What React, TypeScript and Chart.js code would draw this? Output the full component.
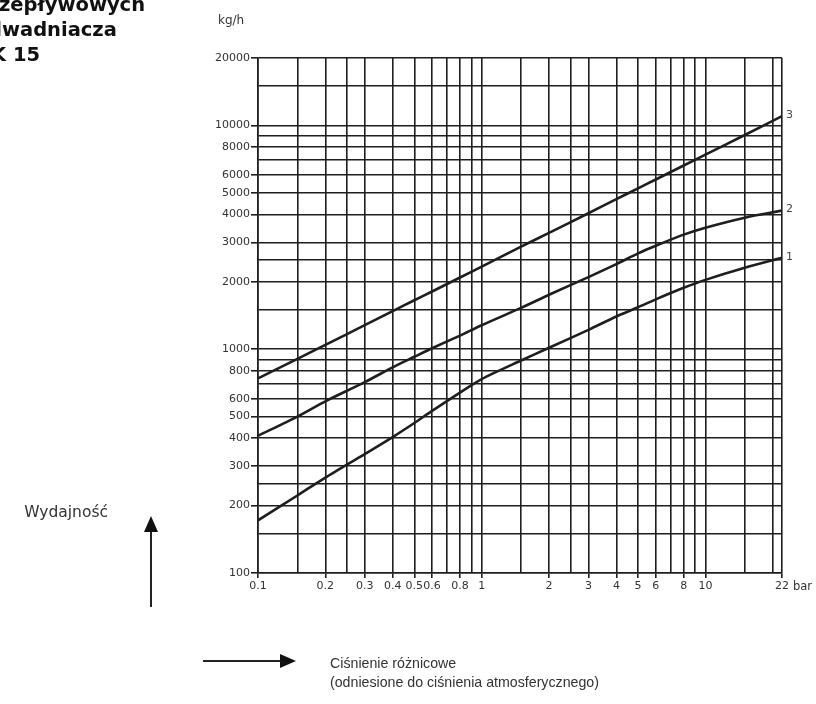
import React, { useEffect, useRef } from "react";
import { Chart, registerables } from "chart.js";

Chart.register(...registerables);

// Differential pressure (bar) at which the curves were read
const pressureBar = [0.1, 0.15, 0.2, 0.3, 0.4, 0.5, 0.6, 0.8, 1, 1.5, 2, 3, 4, 5, 6, 8, 10, 15, 22];
// Capacity (kg/h) for the three curves
const curve1 = [172, 222, 267, 340, 405, 468, 530, 640, 735, 890, 1015, 1220, 1400, 1540, 1670, 1880, 2040, 2310, 2560];
const curve2 = [410, 500, 585, 712, 830, 925, 1010, 1150, 1280, 1530, 1750, 2100, 2400, 2680, 2900, 3250, 3490, 3870, 4160];
const curve3 = [740, 905, 1045, 1280, 1480, 1655, 1810, 2090, 2340, 2870, 3310, 4050, 4680, 5230, 5730, 6620, 7400, 9060, 11000];
const curveLabels = ["1", "2", "3"];

const xGridValues = [0.1, 0.15, 0.2, 0.25, 0.3, 0.4, 0.5, 0.6, 0.7, 0.8, 0.9, 1, 1.5, 2, 2.5, 3, 4, 5, 6, 7, 8, 9, 10, 15, 20, 22];
const xTickLabels = ["0.1", "0.2", "0.3", "0.4", "0.5", "0.6", "0.8", "1", "2", "3", "4", "5", "6", "8", "10", "22"];
const yGridValues = [100, 150, 200, 250, 300, 400, 500, 600, 700, 800, 900, 1000, 1500, 2000, 2500, 3000, 4000, 5000, 6000, 7000, 8000, 9000, 10000, 15000, 20000];
const yTickLabels = ["100", "200", "300", "400", "500", "600", "800", "1000", "2000", "3000", "4000", "5000", "6000", "8000", "10000", "20000"];

const INK = "#1e1e1e";
const TEXT = "#333333";

function labelFor(labels: string[], v: number): string {
  const l = labels.find((s) => Number(s) === v);
  return l === undefined ? "" : l;
}

const endLabelsPlugin = {
  id: "endLabels",
  afterDatasetsDraw(chart: any) {
    const ctx = chart.ctx;
    ctx.save();
    ctx.font = '11px "DejaVu Sans"';
    ctx.fillStyle = "#444";
    ctx.textBaseline = "middle";
    ctx.textAlign = "left";
    chart.data.datasets.forEach((ds: any, i: number) => {
      const meta = chart.getDatasetMeta(i);
      const pt = meta.data[meta.data.length - 1];
      if (pt) ctx.fillText(ds.label, pt.x + 4, pt.y - 1);
    });
    ctx.restore();
  },
};

function CapacityChart() {
  const ref = useRef<HTMLCanvasElement | null>(null);
  useEffect(() => {
    if (!ref.current) return;
    const mk = (vals: number[], label: string) => ({
      label,
      data: pressureBar.map((x, i) => ({ x, y: vals[i] })),
      borderColor: INK,
      borderWidth: 2.6,
      pointRadius: 0,
      tension: 0.25,
      fill: false,
    });
    const chart = new Chart(ref.current, {
      type: "line",
      data: {
        datasets: [mk(curve1, curveLabels[0]), mk(curve2, curveLabels[1]), mk(curve3, curveLabels[2])],
      },
      options: {
        responsive: false,
        animation: false,
        layout: { padding: { left: 208, right: 34, top: 58, bottom: 101 } },
        plugins: { legend: { display: false }, tooltip: { enabled: false } },
        scales: {
          x: {
            type: "logarithmic",
            min: 0.1,
            max: 22,
            afterBuildTicks: (scale: any) => {
              scale.ticks = xGridValues.map((v) => ({ value: v }));
            },
            afterFit: (scale: any) => {
              scale.height = 30;
            },
            ticks: {
              autoSkip: false,
              maxRotation: 0,
              minRotation: 0,
              padding: 2,
              color: TEXT,
              font: { family: "DejaVu Sans", size: 11 },
              callback: (value: any) => labelFor(xTickLabels, Number(value)),
            },
            grid: {
              color: INK,
              lineWidth: 1.6,
              tickLength: 5,
              tickColor: (ctx: any) =>
                ctx.tick && labelFor(xTickLabels, ctx.tick.value) !== "" ? INK : "rgba(0,0,0,0)",
            },
            border: { display: true, color: INK, width: 1.6 },
          },
          y: {
            type: "logarithmic",
            min: 100,
            max: 20000,
            afterBuildTicks: (scale: any) => {
              scale.ticks = yGridValues.map((v) => ({ value: v }));
            },
            afterFit: (scale: any) => {
              scale.width = 50;
            },
            ticks: {
              autoSkip: false,
              padding: 1,
              color: TEXT,
              font: { family: "DejaVu Sans", size: 11 },
              callback: (value: any) => labelFor(yTickLabels, Number(value)),
            },
            grid: {
              color: INK,
              lineWidth: 1.6,
              tickLength: 7,
              tickColor: (ctx: any) =>
                ctx.tick && labelFor(yTickLabels, ctx.tick.value) !== "" ? INK : "rgba(0,0,0,0)",
            },
            border: { display: true, color: INK, width: 1.6 },
          },
        },
      },
      plugins: [endLabelsPlugin],
    } as any);
    return () => chart.destroy();
  }, []);
  return <canvas ref={ref} width={816} height={704} style={{ position: "absolute", left: 0, top: 0 }} />;
}

const abs = (s: React.CSSProperties): React.CSSProperties => ({ position: "absolute", whiteSpace: "nowrap", margin: 0, ...s });

export default function App() {
  useEffect(() => {
    document.body.style.margin = "0";
  }, []);
  const titleFont: React.CSSProperties = {
    fontFamily: "'DejaVu Sans'",
    fontWeight: "bold",
    fontSize: 19.5,
    lineHeight: "22px",
    color: "#111",
  };
  const bottomFont: React.CSSProperties = {
    fontFamily: "'Liberation Sans', Arial",
    fontSize: 14.2,
    lineHeight: "18px",
    color: TEXT,
  };
  return (
    <div style={{ position: "absolute", left: 0, top: 0, width: 816, height: 704, overflow: "hidden", background: "#fff" }}>
      <CapacityChart />
      <div style={abs({ ...titleFont, left: -1, top: -6 })}>zepływowych</div>
      <div style={abs({ ...titleFont, left: -12, top: 19 })}>dwadniacza</div>
      <div style={abs({ ...titleFont, left: -9, top: 44 })}>K 15</div>
      <div style={abs({ left: 218, top: 12, fontFamily: "'DejaVu Sans'", fontSize: 12, lineHeight: "16px", color: TEXT })}>kg/h</div>
      <div style={abs({ left: 793, top: 578, fontFamily: "'DejaVu Sans'", fontSize: 11.5, lineHeight: "16px", color: TEXT })}>bar</div>
      <div style={abs({ right: 816 - 108, top: 502, fontFamily: "'DejaVu Sans'", fontSize: 15.5, lineHeight: "20px", color: TEXT })}>Wydajność</div>
      <div style={abs({ ...bottomFont, left: 330, top: 654 })}>Ciśnienie różnicowe</div>
      <div style={abs({ ...bottomFont, left: 330, top: 673 })}>(odniesione do ciśnienia atmosferycznego)</div>
      <svg width={816} height={704} style={{ position: "absolute", left: 0, top: 0, pointerEvents: "none" }}>
        <line x1={151} y1={530} x2={151} y2={607} stroke="#222" strokeWidth={2} />
        <polygon points="144,532 158,532 151,516" fill="#111" />
        <line x1={203} y1={661} x2={282} y2={661} stroke="#222" strokeWidth={2} />
        <polygon points="280,654 280,668 296,661" fill="#111" />
      </svg>
    </div>
  );
}
